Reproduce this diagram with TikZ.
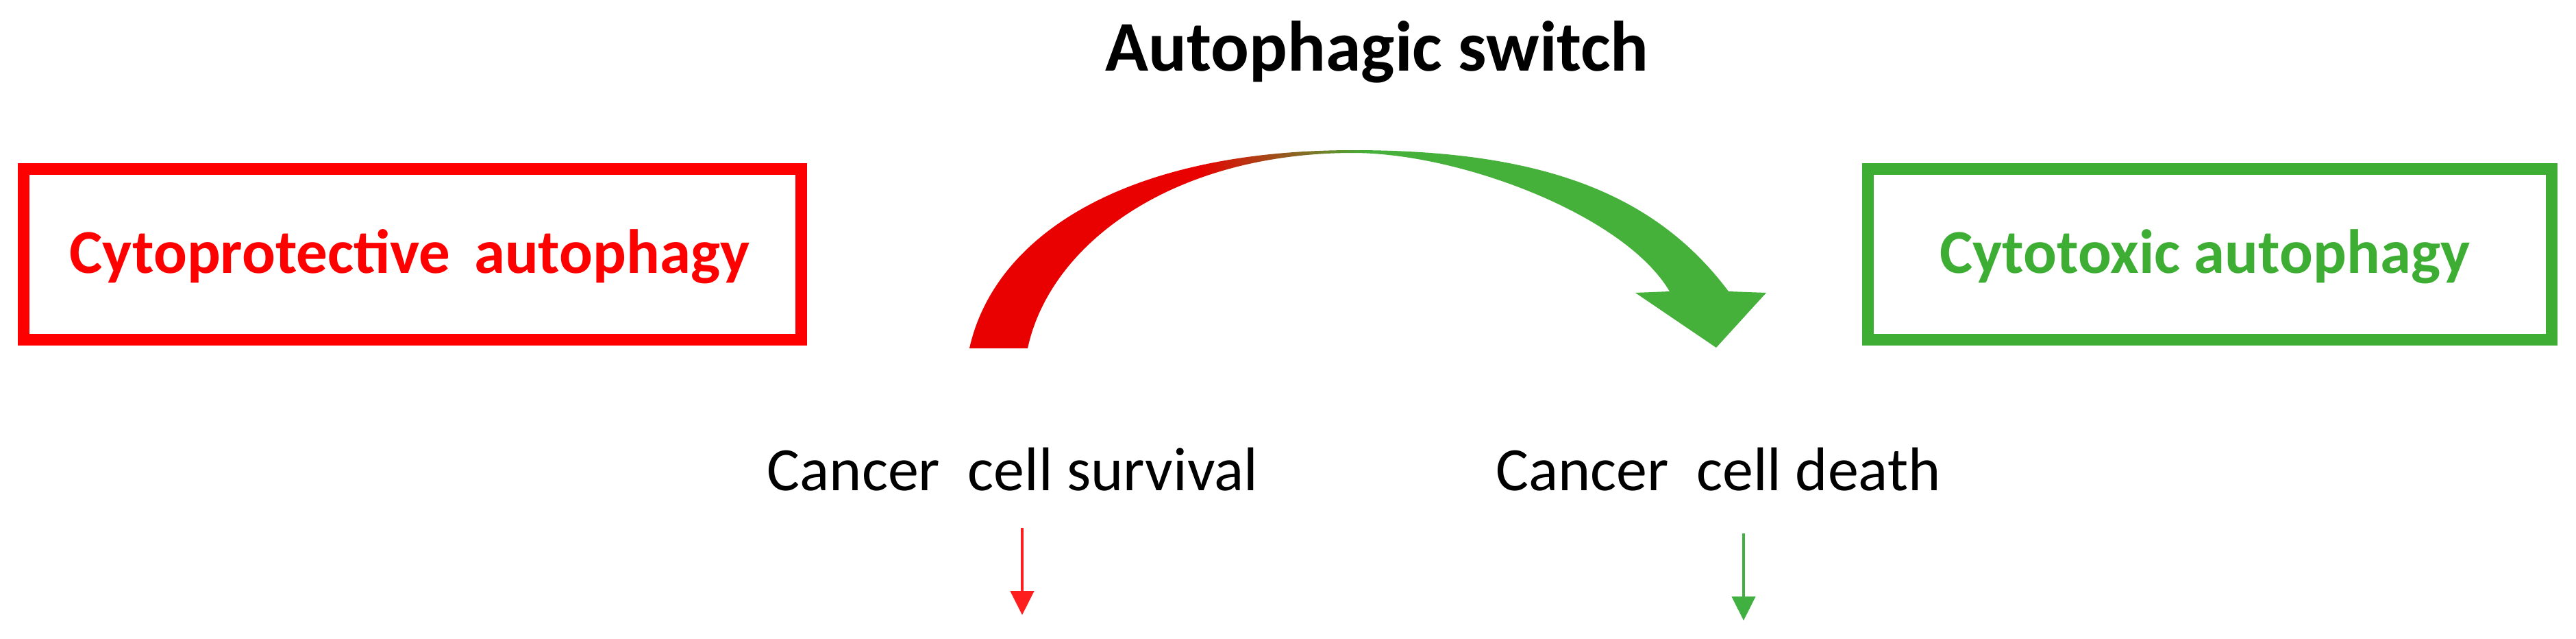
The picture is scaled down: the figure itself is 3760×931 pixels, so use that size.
\documentclass[tikz,border=0pt]{standalone}
\usepackage{fontspec}
\setmainfont{Carlito}
\usetikzlibrary{arrows.meta}
\definecolor{boxred}{RGB}{255,0,0}
\definecolor{boxgreen}{RGB}{62,173,52}
\definecolor{arcred}{RGB}{233,0,0}
\definecolor{arcgreen}{RGB}{69,176,58}
\definecolor{smallred}{RGB}{255,30,30}
\definecolor{smallgreen}{RGB}{64,176,64}
\pgfdeclarehorizontalshading{switchshade}{100bp}{color(0bp)=(arcred); color(39.4bp)=(arcred); color(50bp)=(arcgreen); color(100bp)=(arcgreen)}
\tikzset{
  frame/.style={draw=#1, line width=1.7pt, fill=white, inner sep=0pt, outer sep=0pt},
  boxlabel/.style={anchor=base, inner sep=0pt, font=\fontsize{9.1}{11}\selectfont\bfseries, text=#1},
  cell/.style={anchor=base, inner sep=0pt, font=\fontsize{9}{11}\selectfont},
  thin arrow/.style={draw=#1, line width=0.45pt, -{Triangle[width=3.4pt,length=3.5pt,fill=#1]}}
}
\begin{document}
\begin{tikzpicture}[x=0.1pt,y=-0.1pt]
\useasboundingbox (0,0) rectangle (3760,931);
\fill[white] (0,0) rectangle (3760,931);
% title
\node[anchor=base, inner sep=0pt, font=\fontsize{10.4}{12}\selectfont\bfseries] (title) at (2010,103) {Autophagic switch};
% boxes
\node[frame=boxred, minimum width=113.6pt, minimum height=24.9pt] (cpbox) at (602,370.5) {};
\node[boxlabel=boxred] (cptext) at (598,398) {Cytoprotective\hspace{0.38em}autophagy};
\node[frame=boxgreen, minimum width=99.9pt, minimum height=24.9pt] (ctbox) at (3225.5,370.5) {};
\node[boxlabel=boxgreen] (cttext) at (3218,398) {Cytotoxic autophagy};
% switch arrow
\shade[shading=switchshade]
  (1415,508) .. controls (1452,342) and (1645,219) .. (1975,219)
  .. controls (2249,219) and (2415,281) .. (2523,425)
  -- (2578,427) -- (2505,507) -- (2387,427) -- (2437,425)
  .. controls (2371,313) and (2130,223) .. (1975,223)
  .. controls (1714,223) and (1533,354) .. (1500,508) -- cycle;
% outcomes
\node[cell] (surv) at (1478,715) {Cancer\hspace{0.45em}cell survival};
\node[cell] (death) at (2508,715) {Cancer\hspace{0.45em}cell death};
\coordinate (rs) at (1492,770);
\coordinate (re) at (1492,897);
\coordinate (gs) at (2545,778);
\coordinate (ge) at (2545,905);
\draw[thin arrow=smallred] (rs) -- (re);
\draw[thin arrow=smallgreen] (gs) -- (ge);
\end{tikzpicture}
\end{document}
